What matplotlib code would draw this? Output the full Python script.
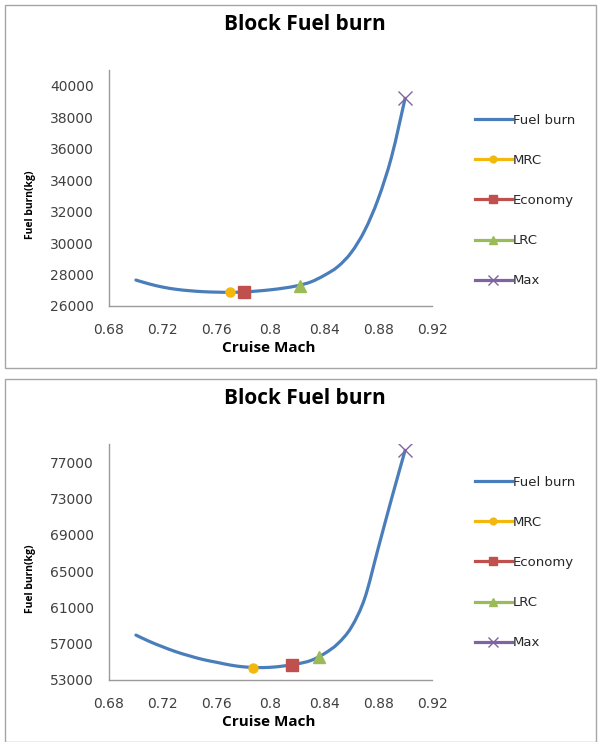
#!/usr/bin/env python3
"""
Block fuel burn against cruise Mach for two missions, with the MRC, economy,
LRC and maximum-speed operating points marked on each curve.
Writes out.png.
"""

import matplotlib

matplotlib.use("Agg")
import matplotlib.pyplot as plt
from matplotlib.lines import Line2D
from matplotlib.patches import PathPatch, Rectangle
from matplotlib.path import Path

# Upper chart: fuel burn (kg) against cruise Mach
mach_a = [0.70, 0.71, 0.72, 0.73, 0.74, 0.75, 0.76, 0.77, 0.78, 0.79, 0.80,
          0.81, 0.82, 0.83, 0.84, 0.85, 0.86, 0.87, 0.88, 0.89, 0.90]
fuel_a = [27650, 27400, 27200, 27060, 26970, 26910, 26880, 26870, 26890, 26950, 27030,
          27140, 27290, 27530, 27950, 28500, 29400, 30800, 32800, 35500, 39200]
points_a = {
    "MRC": (0.77, 26870),
    "Economy": (0.78, 26900),
    "LRC": (0.822, 27300),
    "Max": (0.90, 39200),
}
yticks_a = [26000, 28000, 30000, 32000, 34000, 36000, 38000, 40000]
ylim_a = (26000, 41000)

# Lower chart
mach_b = [0.70, 0.71, 0.72, 0.73, 0.74, 0.75, 0.76, 0.77, 0.78, 0.79, 0.80,
          0.81, 0.82, 0.83, 0.84, 0.85, 0.86, 0.87, 0.88, 0.89, 0.90]
fuel_b = [57950, 57250, 56650, 56100, 55650, 55250, 54950, 54650, 54450, 54370, 54400,
          54550, 54780, 55150, 55900, 57000, 58800, 62000, 67500, 73000, 78300]
points_b = {
    "MRC": (0.787, 54370),
    "Economy": (0.816, 54700),
    "LRC": (0.836, 55500),
    "Max": (0.90, 78300),
}
yticks_b = [53000, 57000, 61000, 65000, 69000, 73000, 77000]
ylim_b = (53000, 79000)

xticks = [0.68, 0.72, 0.76, 0.80, 0.84, 0.88, 0.92]
xtick_labels = ["0.68", "0.72", "0.76", "0.8", "0.84", "0.88", "0.92"]

W, H = 599, 742

# marker style per operating point
STYLES = {
    "MRC": dict(color="#F4B80C", marker="o", ms=6.5),
    "Economy": dict(color="#C0504D", marker="s", ms=8),
    "LRC": dict(color="#9BBB59", marker="^", ms=8),
    "Max": dict(color="#8064A2", marker="x", ms=10, mew=1.0),
}
LINE_COLOR = "#4A7EBB"
HEAD_FONT = "Open Sans"
TICK_FONT = "DejaVu Sans"


def fx(px):
    return px / W


def fy(py):
    return 1.0 - py / H


def smooth_path(xs, ys):
    """Cubic Bezier through every point (Catmull-Rom tangents), like a smoothed line chart."""
    pts = list(zip(xs, ys))
    verts = [pts[0]]
    codes = [Path.MOVETO]
    n = len(pts)
    for i in range(n - 1):
        p0 = pts[max(i - 1, 0)]
        p1 = pts[i]
        p2 = pts[i + 1]
        p3 = pts[min(i + 2, n - 1)]
        c1 = (p1[0] + (p2[0] - p0[0]) / 6.0, p1[1] + (p2[1] - p0[1]) / 6.0)
        c2 = (p2[0] - (p3[0] - p1[0]) / 6.0, p2[1] - (p3[1] - p1[1]) / 6.0)
        verts += [c1, c2, p2]
        codes += [Path.CURVE4] * 3
    return Path(verts, codes)


def draw_panel(fig, top, mach, fuel, points, yticks, ylim, legend_top):
    """One framed chart; `top` is the pixel row where the frame starts."""
    fig.patches.append(Rectangle((fx(5), fy(top + 363)), fx(591), 363 / H,
                                 transform=fig.transFigure, fill=False,
                                 edgecolor="#A6A6A6", lw=1.0))
    fig.text(fx(305), fy(top + 20), "Block Fuel burn", ha="center", va="center",
             fontsize=15, fontweight="bold", family=HEAD_FONT)

    ax = fig.add_axes([fx(109), fy(top + 301), fx(432 - 109), 236 / H])
    ax.add_patch(PathPatch(smooth_path(mach, fuel), facecolor="none",
                           edgecolor=LINE_COLOR, lw=2.3, capstyle="round", zorder=2))
    for name, (x, y) in points.items():
        st = STYLES[name]
        ax.plot([x], [y], ls="none", color=st["color"], marker=st["marker"],
                markersize=st["ms"], markeredgewidth=st.get("mew", 1.0),
                markerfacecolor=st["color"], markeredgecolor=st["color"], zorder=3)

    ax.set_xlim(0.68, 0.92)
    ax.set_ylim(*ylim)
    ax.set_xticks(xticks)
    ax.set_xticklabels(xtick_labels)
    ax.set_yticks(yticks)
    ax.tick_params(length=0, labelsize=10, colors="#404040")
    ax.tick_params(axis="x", pad=12)
    ax.tick_params(axis="y", pad=11)
    for lab in ax.get_xticklabels() + ax.get_yticklabels():
        lab.set_family(TICK_FONT)
    for side in ("top", "right"):
        ax.spines[side].set_visible(False)
    for side in ("left", "bottom"):
        ax.spines[side].set_color("#9A9A9A")
        ax.spines[side].set_linewidth(1.0)

    fig.text(fx(269), fy(top + 343), "Cruise Mach", ha="center", va="center",
             fontsize=11, fontweight="bold", family=HEAD_FONT)
    fig.text(fx(30), fy(top + 200), "Fuel burn(kg)", rotation=90, ha="center",
             va="center", fontsize=7.5, fontweight="bold", family=HEAD_FONT)

    handles = [Line2D([], [], color=LINE_COLOR, lw=2.3)]
    for name in points:
        st = STYLES[name]
        handles.append(Line2D([], [], color=st["color"], lw=2.3, marker=st["marker"],
                              markersize=st["ms"] * 0.75,
                              markeredgewidth=st.get("mew", 1.0)))
    leg = ax.legend(handles, ["Fuel burn"] + list(points.keys()),
                    loc="upper left", bbox_to_anchor=(fx(475), fy(legend_top)),
                    bbox_transform=fig.transFigure, frameon=False,
                    handlelength=2.8, handletextpad=0.05, labelspacing=2.05,
                    borderpad=0, borderaxespad=0,
                    prop={"family": TICK_FONT, "size": 9.5})
    for t in leg.get_texts():
        t.set_color("#262626")
    return ax


def main() -> None:
    fig = plt.figure(figsize=(W / 100, H / 100), dpi=100)
    draw_panel(fig, 5, mach_a, fuel_a, points_a, yticks_a, ylim_a, legend_top=114)
    draw_panel(fig, 379, mach_b, fuel_b, points_b, yticks_b, ylim_b, legend_top=476)
    fig.savefig("out.png", dpi=100)
    plt.close(fig)


if __name__ == "__main__":
    main()
